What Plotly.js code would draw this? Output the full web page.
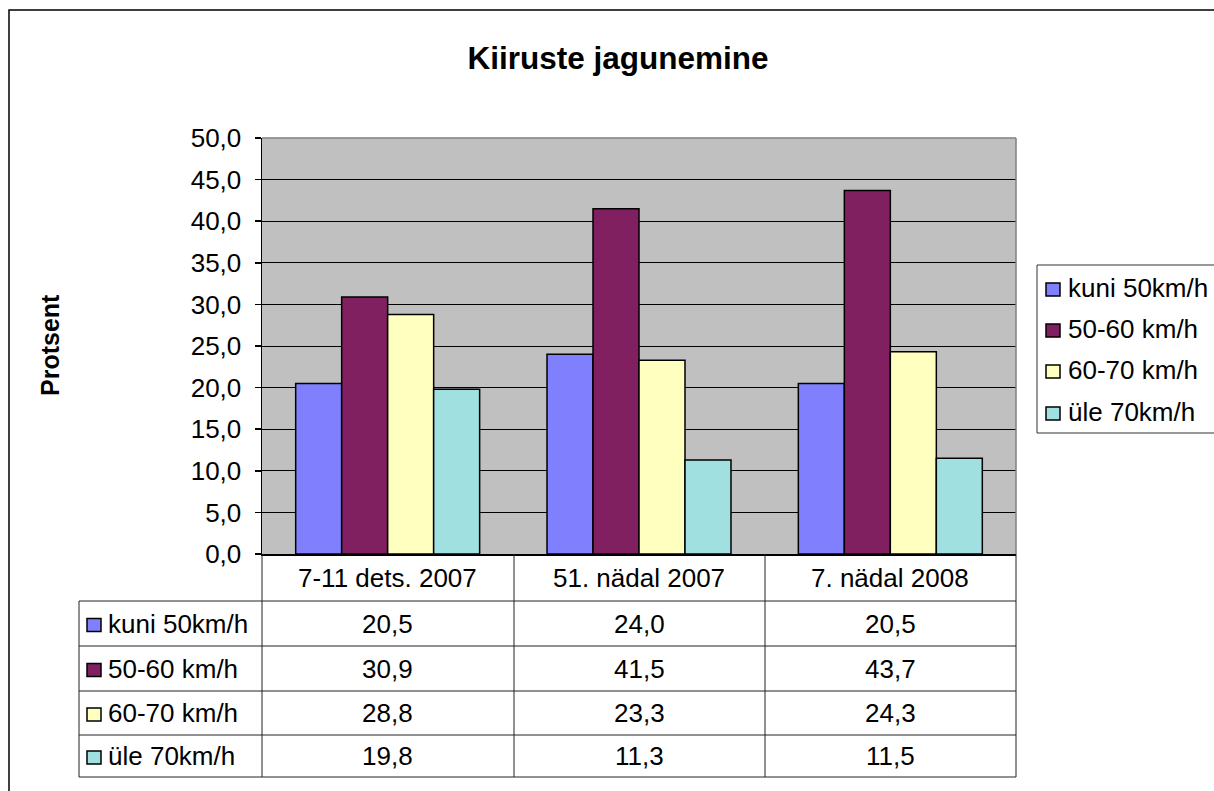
<!DOCTYPE html>
<html>
<head>
<meta charset="utf-8">
<script src="https://cdn.plot.ly/plotly-3.0.1.min.js"></script>
<style>html,body{margin:0;padding:0;background:#fff;}#chart{width:1214px;height:791px;}</style>
</head>
<body>
<div id="chart"></div>
<script>
// ---- data ----
const categories = ["7-11 dets. 2007", "51. nädal 2007", "7. nädal 2008"];
const seriesNames = ["kuni 50km/h", "50-60 km/h", "60-70 km/h", "üle 70km/h"];
const kuni50 = [20.5, 24.0, 20.5];
const s50_60 = [30.9, 41.5, 43.7];
const s60_70 = [28.8, 23.3, 24.3];
const yle70 = [19.8, 11.3, 11.5];
const yTicks = [0, 5, 10, 15, 20, 25, 30, 35, 40, 45, 50];
const titleText = "Kiiruste jagunemine";
const yTitle = "Protsent";

// ---- style ----
const colors = ["#8080FF", "#802060", "#FFFFC0", "#A0E0E0"];
const FONT = "Liberation Sans, Arial, sans-serif";
const FS = 26;
const W = 1214, H = 791, L = 262, R = 1016, T = 138, B = 554;
const px = x => (x - L) / (R - L);
const py = y => (B - y) / (B - T);
const fmt = v => v.toFixed(1).replace('.', ',');

const allSeries = [kuni50, s50_60, s60_70, yle70];

const traces = allSeries.map((vals, i) => ({
  type: 'bar',
  x: categories,
  y: vals,
  name: seriesNames[i],
  showlegend: false,
  marker: {color: colors[i], line: {color: '#000', width: 1.5}},
  hoverinfo: 'x+y+name'
}));

// table geometry (pixel rows)
const rowEdges = [601, 646, 691, 735, 777];
const headerTop = B;
const lineColor = '#222';
const shapes = [];
// outer frame
shapes.push({type: 'rect', xref: 'paper', yref: 'paper', x0: px(9), x1: px(1230), y0: py(10), y1: py(810),
  line: {color: '#000', width: 1.5}, fillcolor: 'rgba(0,0,0,0)', layer: 'below'});
// plot top/right border gray
shapes.push({type: 'line', xref: 'paper', yref: 'paper', x0: 0, x1: 1, y0: 1, y1: 1, line: {color: '#808080', width: 1.5}});
shapes.push({type: 'line', xref: 'paper', yref: 'paper', x0: 1, x1: 1, y0: 0, y1: 1, line: {color: '#808080', width: 1.5}});
// horizontal table lines
rowEdges.forEach(y => {
  shapes.push({type: 'line', xref: 'paper', yref: 'paper', x0: px(79), x1: px(1016), y0: py(y), y1: py(y),
    line: {color: lineColor, width: 1}});
});
// vertical table lines
shapes.push({type: 'line', xref: 'paper', yref: 'paper', x0: px(79), x1: px(79), y0: py(601), y1: py(777), line: {color: lineColor, width: 1}});
[262, 514, 765, 1016].forEach(x => {
  shapes.push({type: 'line', xref: 'paper', yref: 'paper', x0: px(x), x1: px(x), y0: py(headerTop), y1: py(777), line: {color: lineColor, width: 1}});
});

const annotations = [];
// category header labels
categories.forEach(c => {
  annotations.push({xref: 'x', yref: 'paper', x: c, y: py(578), text: c, showarrow: false,
    xanchor: 'center', yanchor: 'middle', font: {family: FONT, size: FS, color: '#000'}});
});
// table rows
allSeries.forEach((vals, i) => {
  const yc = (rowEdges[i] + rowEdges[i + 1]) / 2;
  shapes.push({type: 'rect', xref: 'paper', yref: 'paper', x0: px(87), x1: px(101), y0: py(yc - 5), y1: py(yc + 8),
    fillcolor: colors[i], line: {color: '#000', width: 1.5}});
  annotations.push({xref: 'paper', yref: 'paper', x: px(106), y: py(yc), text: seriesNames[i], showarrow: false,
    xanchor: 'left', yanchor: 'middle', font: {family: FONT, size: FS, color: '#000'}});
  vals.forEach((v, j) => {
    annotations.push({xref: 'x', yref: 'paper', x: categories[j], y: py(yc), text: fmt(v), showarrow: false,
      xanchor: 'center', yanchor: 'middle', font: {family: FONT, size: FS, color: '#000'}});
  });
});
// legend (drawn box at right)
shapes.push({type: 'rect', xref: 'paper', yref: 'paper', x0: px(1037), x1: px(1230), y0: py(265), y1: py(433),
  line: {color: '#333', width: 1}, fillcolor: '#fff'});
const legendY = [288, 329, 370, 412];
seriesNames.forEach((n, i) => {
  const yc = legendY[i];
  shapes.push({type: 'rect', xref: 'paper', yref: 'paper', x0: px(1046), x1: px(1060), y0: py(yc - 5), y1: py(yc + 8),
    fillcolor: colors[i], line: {color: '#000', width: 1.5}});
  annotations.push({xref: 'paper', yref: 'paper', x: px(1066), y: py(yc), text: n, showarrow: false,
    xanchor: 'left', yanchor: 'middle', font: {family: FONT, size: FS, color: '#000'}});
});
// y-axis title
annotations.push({xref: 'paper', yref: 'paper', x: px(50), y: py(345), text: '<b>' + yTitle + '</b>', showarrow: false,
  textangle: -90, xanchor: 'center', yanchor: 'middle', font: {family: FONT, size: 25, color: '#000'}});

const layout = {
  width: W, height: H,
  margin: {l: L, r: W - R, t: T, b: H - B, pad: 0},
  paper_bgcolor: '#fff',
  plot_bgcolor: '#C0C0C0',
  separators: ', ',
  barmode: 'group',
  bargap: 0.268,
  bargroupgap: 0,
  showlegend: false,
  title: {text: '<b>' + titleText + '</b>', xref: 'container', x: 618 / W, xanchor: 'center', yref: 'container', y: 1 - 58 / H, yanchor: 'middle',
    font: {family: FONT, size: 31.5, color: '#000'}},
  xaxis: {type: 'category', showticklabels: false, ticks: '', showgrid: false, zeroline: false,
    showline: true, linecolor: '#000', linewidth: 1.5},
  yaxis: {range: [0, 50], tickvals: yTicks, tickformat: '.1f', ticks: 'outside', ticklen: 6, tickcolor: '#000',
    tickwidth: 1.5, ticklabelstandoff: 8,
    showgrid: true, gridcolor: '#000', gridwidth: 1, zeroline: false, showline: true, linecolor: '#000', linewidth: 1.5,
    tickfont: {family: FONT, size: FS, color: '#000'}},
  shapes: shapes,
  annotations: annotations
};

Plotly.newPlot('chart', traces, layout, {displayModeBar: false, staticPlot: true});
</script>
</body>
</html>
